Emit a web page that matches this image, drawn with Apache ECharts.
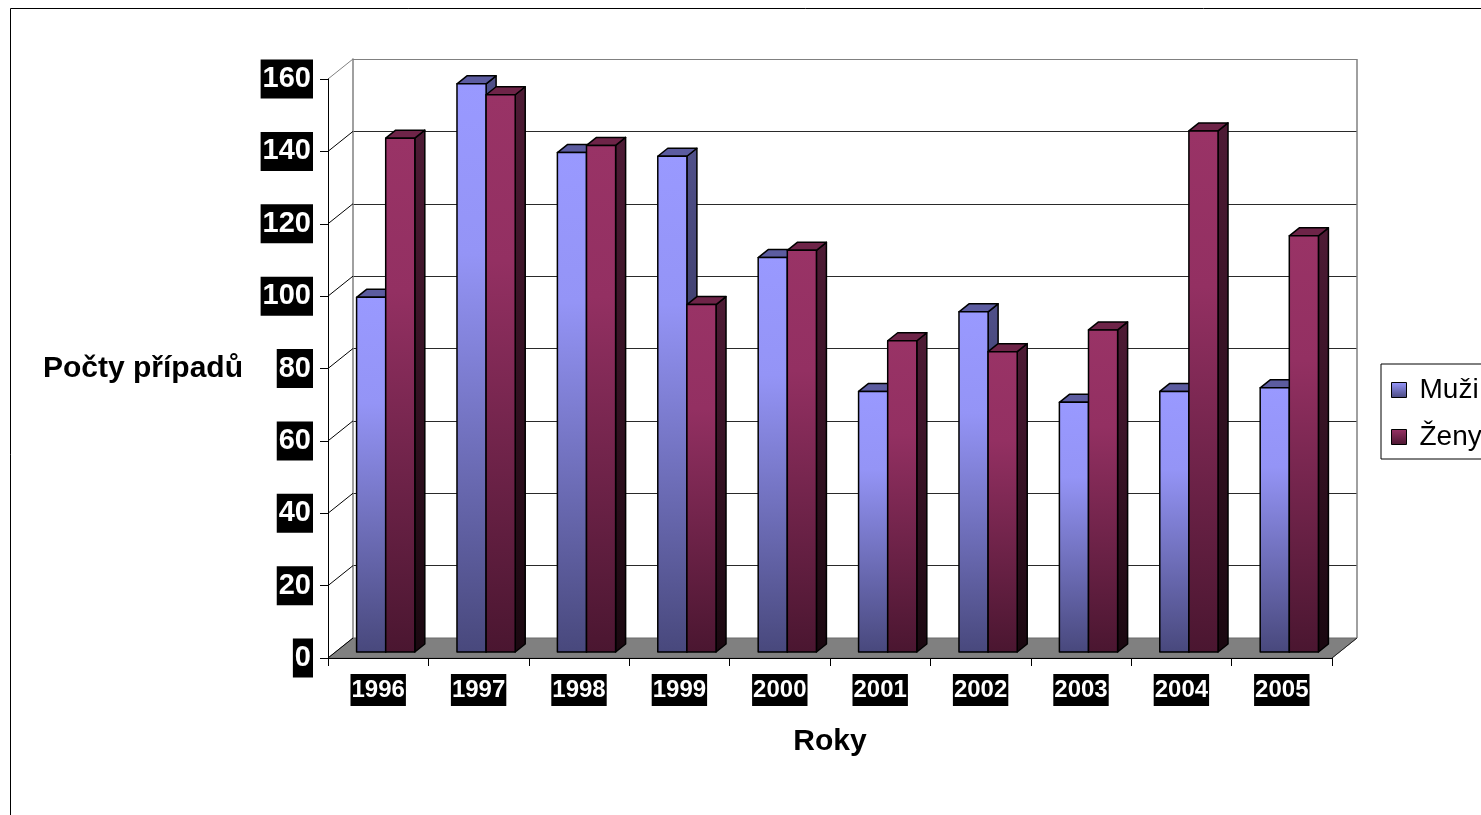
<!DOCTYPE html>
<html>
<head>
<meta charset="utf-8">
<title>Počty případů 1996–2005</title>
<script src="https://cdn.jsdelivr.net/npm/echarts@6/dist/echarts.min.js"></script>
<style>
  html, body { margin: 0; padding: 0; overflow: hidden; background: #fff; }
  #chart { position: absolute; left: 0; top: 0; width: 1600px; height: 900px; }
</style>
</head>
<body>
<div id="chart"></div>
<script>
// Yearly case counts by sex
const years = ['1996', '1997', '1998', '1999', '2000', '2001', '2002', '2003', '2004', '2005'];
const muzi = [98, 157, 138, 137, 109, 72, 94, 69, 72, 73];
const zeny = [142, 154, 140, 96, 111, 86, 83, 89, 144, 115];
const yTicks = [0, 20, 40, 60, 80, 100, 120, 140, 160];

// Front plane of the pseudo-3D box and the depth shift to the back wall
const FRONT = { left: 328, top: 79, width: 1004, height: 579 };
const DEPTH = { dx: 25, dy: -20 };
const BAR_DEPTH_START = 0.3;  // where the bar front faces sit inside the box depth
const BAR_DEPTH_SIZE = 0.4;   // how deep the bars are
const BAR_RATIO = 0.29;       // bar width relative to a category band

const FONT = '"Liberation Sans", Arial, sans-serif';

const chart = echarts.init(document.getElementById('chart'), null, { renderer: 'canvas' });
const G = echarts.graphic;

const palettes = {
  muzi: {
    front: ['#9999FF', '#9494F6', '#48487C'],
    top: '#5C5CA0',
    side: ['#50508A', '#23233D']
  },
  zeny: {
    front: ['#993366', '#933062', '#4A1630'],
    top: '#6E2448',
    side: ['#4E1B35', '#1A0810']
  }
};

function makeBarRenderer(dir, pal) {
  return function (params, api) {
    const i = api.value(0);
    const v = api.value(1);
    const topPt = api.coord([i, v]);
    const basePt = api.coord([i, 0]);
    const band = api.size([1, 0])[0];
    const w = band * BAR_RATIO;
    const ox = DEPTH.dx * BAR_DEPTH_START;
    const oy = DEPTH.dy * BAR_DEPTH_START;
    const ddx = DEPTH.dx * BAR_DEPTH_SIZE;
    const ddy = DEPTH.dy * BAR_DEPTH_SIZE;
    const x0 = topPt[0] + ox + (dir < 0 ? -w : 0);
    const x1 = x0 + w;
    const yT = topPt[1] + oy;
    const yB = basePt[1] + oy;
    const stroke = { stroke: '#000', lineWidth: 1.5, lineJoin: 'round' };
    return {
      type: 'group',
      children: [
        {
          type: 'polygon',
          shape: { points: [[x1, yT], [x1 + ddx, yT + ddy], [x1 + ddx, yB + ddy], [x1, yB]] },
          style: Object.assign({
            fill: new G.LinearGradient(0, 0, 0, 1, [
              { offset: 0, color: pal.side[0] },
              { offset: 1, color: pal.side[1] }
            ])
          }, stroke)
        },
        {
          type: 'polygon',
          shape: { points: [[x0, yT], [x0 + ddx, yT + ddy], [x1 + ddx, yT + ddy], [x1, yT]] },
          style: Object.assign({ fill: pal.top }, stroke)
        },
        {
          type: 'rect',
          shape: { x: x0, y: yT, width: w, height: yB - yT },
          style: Object.assign({
            fill: new G.LinearGradient(0, 0, 0, 1, [
              { offset: 0, color: pal.front[0] },
              { offset: 0.3, color: pal.front[1] },
              { offset: 1, color: pal.front[2] }
            ])
          }, stroke)
        }
      ]
    };
  };
}

// Diagonal connectors between the front value axis and the back wall gridlines
function depthTickRenderer(params, api) {
  const v = api.value(0);
  const p = api.coord([0, v]);
  const half = api.size([1, 0])[0] / 2;
  const x = p[0] - half;
  const last = v === yTicks[yTicks.length - 1];
  return {
    type: 'line',
    shape: { x1: x, y1: p[1], x2: x + DEPTH.dx, y2: p[1] + DEPTH.dy },
    style: { stroke: last ? '#808080' : '#000', lineWidth: 1 }
  };
}

function legendGradient(c) {
  return new G.LinearGradient(0, 0, 0, 1, [
    { offset: 0, color: c[0] },
    { offset: 1, color: c[2] }
  ]);
}

const splitColors = yTicks.map((t, k) => (k === yTicks.length - 1 ? '#808080' : '#2a2a2a'));

const backX = FRONT.left + DEPTH.dx;
const backTop = FRONT.top + DEPTH.dy;
const floorFront = FRONT.top + FRONT.height;
const floorBack = floorFront + DEPTH.dy;
const frontRight = FRONT.left + FRONT.width;

const option = {
  animation: false,
  textStyle: { fontFamily: FONT },
  grid: [
    { left: backX, top: backTop, width: FRONT.width, height: FRONT.height },
    { left: FRONT.left, top: FRONT.top, width: FRONT.width, height: FRONT.height }
  ],
  xAxis: [
    { type: 'category', gridIndex: 0, data: years, show: false },
    {
      type: 'category', gridIndex: 1, data: years, z: 6,
      axisLine: { show: true, lineStyle: { color: '#000', width: 1 } },
      axisTick: { show: true, length: 8, lineStyle: { color: '#000' } },
      axisLabel: {
        color: '#fff', backgroundColor: '#000', fontWeight: 'bold', fontSize: 24,
        fontFamily: FONT, padding: [4, 1, 4, 1], margin: 16
      },
      splitLine: { show: false },
      name: 'Roky', nameLocation: 'middle', nameGap: 69,
      nameTextStyle: { fontSize: 30, fontWeight: 'bold', color: '#000', fontFamily: FONT }
    }
  ],
  yAxis: [
    {
      type: 'value', gridIndex: 0, min: 0, max: 160, interval: 20,
      axisLine: { show: true, lineStyle: { color: '#808080', width: 1.5 } },
      axisTick: { show: false },
      axisLabel: { show: false },
      splitLine: { show: true, lineStyle: { color: splitColors, width: 1.2 } }
    },
    {
      type: 'value', gridIndex: 1, min: 0, max: 160, interval: 20, z: 6,
      axisLine: { show: true, lineStyle: { color: '#000', width: 1 } },
      axisTick: { show: true, length: 8, lineStyle: { color: '#000' } },
      axisLabel: {
        color: '#fff', backgroundColor: '#000', fontWeight: 'bold', fontSize: 29,
        fontFamily: FONT, padding: [5, 2, 5, 2], margin: 15
      },
      splitLine: { show: false },
      name: 'Počty případů', nameLocation: 'middle', nameRotate: 0, nameGap: 85,
      nameTextStyle: { fontSize: 30, fontWeight: 'bold', color: '#000', fontFamily: FONT, padding: [6, 0, 0, 0] }
    }
  ],
  legend: {
    data: ['Muži', 'Ženy'],
    orient: 'vertical',
    left: 1381, top: 364,
    padding: [11, 90, 7, 10],
    itemWidth: 15, itemHeight: 15, itemGap: 17,
    icon: 'rect',
    borderColor: '#000', borderWidth: 1,
    itemStyle: { borderColor: '#000', borderWidth: 1 },
    textStyle: { fontSize: 28, color: '#000', fontFamily: FONT, lineHeight: 30, padding: [0, 0, 0, 8] }
  },
  graphic: [
    {
      type: 'rect', z: 0, silent: true,
      shape: { x: 10.5, y: 8.5, width: 1700, height: 1000 },
      style: { fill: 'none', stroke: '#000', lineWidth: 1 }
    },
    {
      type: 'polygon', z: 1, silent: true,
      shape: { points: [[FRONT.left, floorFront], [frontRight, floorFront], [frontRight + DEPTH.dx, floorBack], [backX, floorBack]] },
      style: { fill: '#808080', stroke: '#6a6a6a', lineWidth: 1 }
    },
    {
      type: 'line', z: 1, silent: true,
      shape: { x1: frontRight + DEPTH.dx, y1: backTop, x2: frontRight + DEPTH.dx, y2: floorBack },
      style: { stroke: '#808080', lineWidth: 1.5 }
    },
    {
      type: 'line', z: 1, silent: true,
      shape: { x1: frontRight, y1: floorFront, x2: frontRight + DEPTH.dx, y2: floorBack },
      style: { stroke: '#222', lineWidth: 1 }
    }
  ],
  series: [
    {
      name: 'depth', type: 'custom', silent: true, z: 4,
      xAxisIndex: 1, yAxisIndex: 1,
      data: yTicks.map(t => [t]),
      encode: { y: 0 },
      renderItem: depthTickRenderer,
      clip: false
    },
    {
      name: 'Muži', type: 'custom', z: 5,
      xAxisIndex: 1, yAxisIndex: 1,
      itemStyle: { color: legendGradient(palettes.muzi.front) },
      data: muzi.map((v, i) => [i, v]),
      encode: { x: 0, y: 1 },
      renderItem: makeBarRenderer(-1, palettes.muzi),
      clip: false
    },
    {
      name: 'Ženy', type: 'custom', z: 5,
      xAxisIndex: 1, yAxisIndex: 1,
      itemStyle: { color: legendGradient(palettes.zeny.front) },
      data: zeny.map((v, i) => [i, v]),
      encode: { x: 0, y: 1 },
      renderItem: makeBarRenderer(1, palettes.zeny),
      clip: false
    }
  ]
};

chart.setOption(option);
</script>
</body>
</html>
